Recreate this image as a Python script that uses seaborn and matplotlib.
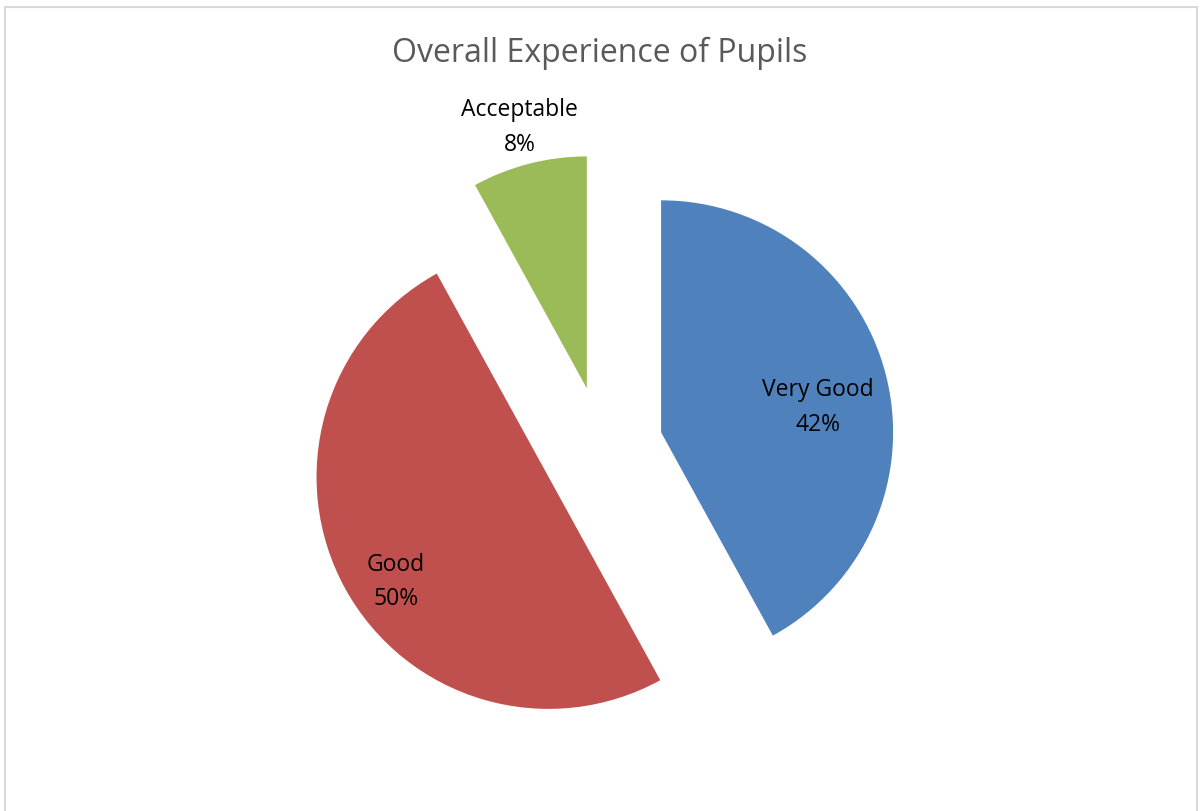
import numpy as np
import seaborn as sns
import matplotlib.pyplot as plt
from matplotlib.patches import Rectangle

sns.set_style('white')
plt.rcParams['font.family'] = ['Open Sans', 'DejaVu Sans']

# dados
categorias = ['Very Good', 'Good', 'Acceptable']
percentuais = [42, 50, 8]
cores = ['#4F81BD', '#C0504D', '#9BBB59']
explode = [0.263, 0.263, 0.263]
# posicao dos rotulos: distancia (em raios) e desvio angular em relacao ao meio da fatia
dist_rotulo = [0.685, 0.80, 1.16]
desvio_ang = [-5.3, 5.7, 0.0]

fig = plt.figure(figsize=(12, 8.11), dpi=100)
ax = fig.add_axes([0, 0, 1, 1])

wedges, _ = ax.pie(percentuais, colors=cores, explode=explode,
                   startangle=90, counterclock=False, radius=1,
                   wedgeprops={'linewidth': 0})

for w, cat, p, d, da in zip(wedges, categorias, percentuais, dist_rotulo, desvio_ang):
    ang = np.deg2rad((w.theta1 + w.theta2) / 2 + da)
    cx, cy = w.center
    ax.text(cx + d * np.cos(ang), cy + d * np.sin(ang), f'{cat}\n{p}%',
            ha='center', va='center', fontsize=16.5, color='black',
            linespacing=1.6)

# escala: raio = 232 px, centro em (602, 447.5) px
ax.set_xlim(-602 / 232, 598 / 232)
ax.set_ylim(-363.5 / 232, 447.5 / 232)
ax.set_aspect('auto')
ax.axis('off')

fig.text(0.5, 1 - 53 / 811, 'Overall Experience of Pupils', ha='center',
         va='center', fontsize=23, color='#595959')

# borda da area do grafico
fig.patches.append(Rectangle((5 / 1200, -0.01), 1192 / 1200, 1 - 7 / 811 + 0.01,
                             transform=fig.transFigure, fill=False,
                             edgecolor='#D9D9D9', linewidth=1.5))

fig.savefig('out.png', dpi=100)
